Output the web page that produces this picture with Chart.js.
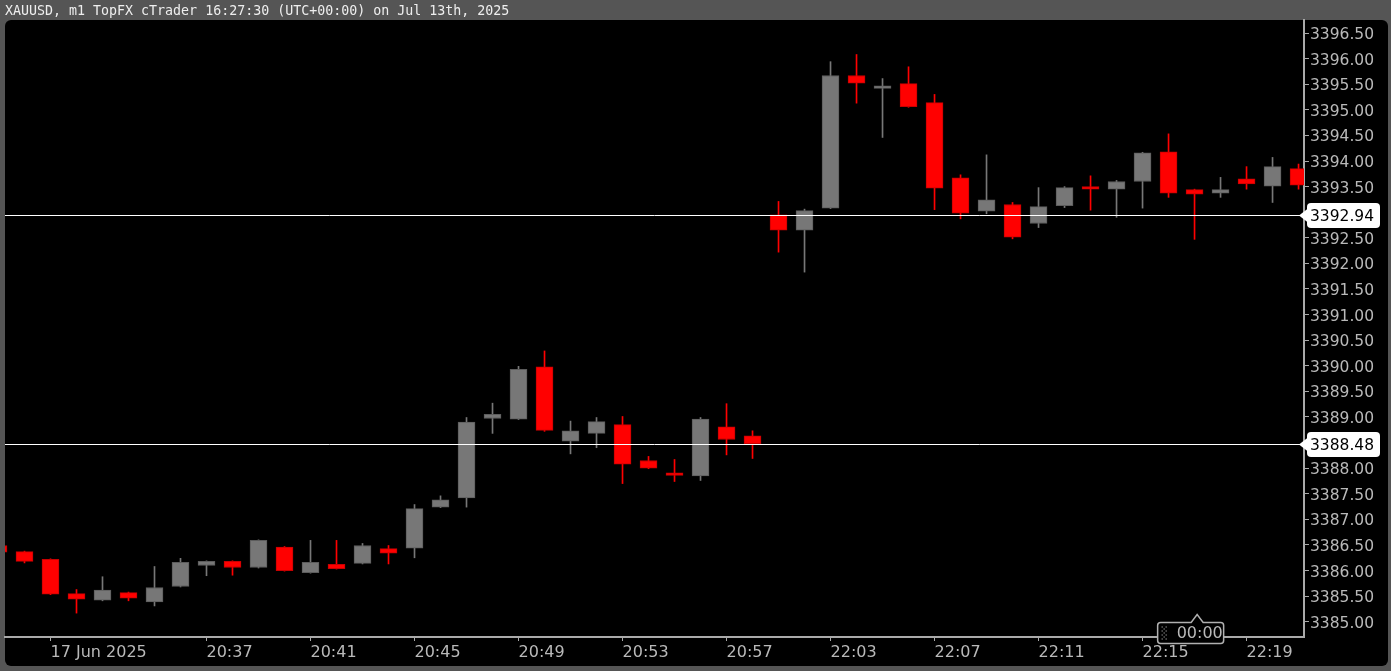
<!DOCTYPE html>
<html>
<head>
<meta charset="utf-8">
<script src="https://cdn.jsdelivr.net/npm/chart.js@4.4.1/dist/chart.umd.min.js"></script>
<style>
  html, body { margin: 0; padding: 0; background: #555555; overflow: hidden; }
  #wrap { position: relative; width: 1391px; height: 671px; }
  #chart { position: absolute; left: 0; top: 0; }
  #title {
    position: absolute; left: 5px; top: 1px; z-index: 2;
    font: 13.3px "DejaVu Sans Mono", monospace; line-height: 20px;
    color: #eeeeee; white-space: pre;
  }
</style>
</head>
<body>
<div id="wrap">
  <canvas id="chart" width="1391" height="671"></canvas>
  <div id="title">XAUUSD, m1 TopFX cTrader 16:27:30 (UTC+00:00) on Jul 13th, 2025</div>
</div>
<script>
// one candle per minute, index 0 is the half-hidden one on the left edge
const openPrices = [
  3386.49, 3386.37, 3386.22, 3385.55, 3385.42, 3385.57, 3385.39, 3385.69, 3386.10, 3386.18,
  3386.06, 3386.46, 3385.96, 3386.12, 3386.14, 3386.43, 3386.44, 3387.24, 3387.42, 3388.97,
  3388.96, 3389.98, 3388.53, 3388.68, 3388.85, 3388.15, 3387.91, 3387.85, 3388.81, 3388.63,
  3392.95, 3392.65, 3393.08, 3395.67, 3395.42, 3395.51, 3395.14, 3393.67, 3393.02, 3393.15,
  3392.78, 3393.13, 3393.50, 3393.45, 3393.60, 3394.18, 3393.44, 3393.37, 3393.65, 3393.51,
  3393.85,
];
const highPrices = [
  3386.52, 3386.38, 3386.23, 3385.63, 3385.88, 3385.58, 3386.08, 3386.24, 3386.19, 3386.19,
  3386.60, 3386.47, 3386.59, 3386.59, 3386.53, 3386.49, 3387.29, 3387.46, 3388.99, 3389.27,
  3389.99, 3390.29, 3388.92, 3388.99, 3389.01, 3388.23, 3388.17, 3388.99, 3389.26, 3388.73,
  3393.21, 3393.06, 3395.94, 3396.08, 3395.61, 3395.84, 3395.30, 3393.73, 3394.12, 3393.19,
  3393.48, 3393.50, 3393.71, 3393.62, 3394.17, 3394.53, 3393.45, 3393.68, 3393.89, 3394.07,
  3393.94,
];
const lowPrices = [
  3386.33, 3386.15, 3385.53, 3385.17, 3385.41, 3385.41, 3385.31, 3385.68, 3385.90, 3385.91,
  3386.05, 3385.99, 3385.95, 3386.03, 3386.13, 3386.13, 3386.25, 3387.23, 3387.24, 3388.68,
  3388.95, 3388.72, 3388.28, 3388.40, 3387.70, 3387.99, 3387.74, 3387.76, 3388.26, 3388.19,
  3392.22, 3391.83, 3393.07, 3395.13, 3394.46, 3395.05, 3393.05, 3392.87, 3392.97, 3392.48,
  3392.70, 3393.09, 3393.04, 3392.90, 3393.08, 3393.29, 3392.47, 3393.29, 3393.45, 3393.19,
  3393.45,
];
const closePrices = [
  3386.36, 3386.18, 3385.54, 3385.44, 3385.62, 3385.46, 3385.67, 3386.16, 3386.18, 3386.06,
  3386.59, 3386.00, 3386.16, 3386.04, 3386.49, 3386.34, 3387.21, 3387.38, 3388.90, 3389.05,
  3389.93, 3388.74, 3388.73, 3388.91, 3388.08, 3388.00, 3387.86, 3388.96, 3388.56, 3388.48,
  3392.65, 3393.03, 3395.67, 3395.52, 3395.47, 3395.06, 3393.47, 3392.98, 3393.24, 3392.51,
  3393.11, 3393.48, 3393.45, 3393.60, 3394.16, 3393.37, 3393.35, 3393.44, 3393.55, 3393.89,
  3393.53,
];

// time axis: which candle carries a label, and the label text
const tickIndex = [2, 8, 12, 16, 20, 24, 28, 32, 36, 40, 44, 48];
const tickLabels = ['17 Jun 2025', '20:37', '20:41', '20:45', '20:49', '20:53', '20:57', '22:03', '22:07', '22:11', '22:15', '22:19'];

// price axis ticks
const priceTicks = [
  3385.0, 3385.5, 3386.0, 3386.5, 3387.0, 3387.5, 3388.0, 3388.5, 3389.0, 3389.5, 3390.0, 3390.5,
  3391.0, 3391.5, 3392.0, 3392.5, 3393.0, 3393.5, 3394.0, 3394.5, 3395.0, 3395.5, 3396.0, 3396.5,
];

// horizontal price lines with their tags on the price scale
const priceLines = [3392.94, 3388.48];
const countdownText = '00:00';
const countdownIndex = 46.1;

const UP = '#777777';
const UP_EDGE = '#5c5c5c';
const DOWN = '#ff0000';
const DOWN_EDGE = '#c80000';
const AXIS = '#a9a9a9';
const LABEL = '#b9b9b9';
const FONT = '"DejaVu Sans", Verdana, sans-serif';

const isUp = (i) => closePrices[i] >= openPrices[i];

const bodyData = openPrices.map((o, i) => ({ x: i, y: [Math.min(o, closePrices[i]), Math.max(o, closePrices[i])] }));
const wickData = openPrices.map((o, i) => ({ x: i, y: [lowPrices[i], highPrices[i]] }));

function roundRect(ctx, x, y, w, h, r) {
  ctx.beginPath();
  ctx.moveTo(x + r, y);
  ctx.lineTo(x + w - r, y);
  ctx.arcTo(x + w, y, x + w, y + r, r);
  ctx.lineTo(x + w, y + h - r);
  ctx.arcTo(x + w, y + h, x + w - r, y + h, r);
  ctx.lineTo(x + r, y + h);
  ctx.arcTo(x, y + h, x, y + h - r, r);
  ctx.lineTo(x, y + r);
  ctx.arcTo(x, y, x + r, y, r);
  ctx.closePath();
}

const panelPlugin = {
  id: 'panel',
  beforeDraw(chart) {
    const ctx = chart.ctx;
    ctx.save();
    ctx.fillStyle = '#555555';
    ctx.fillRect(0, 0, chart.width, chart.height);
    ctx.fillStyle = '#000000';
    roundRect(ctx, 5, 20, chart.width - 8, chart.height - 25, 6);
    ctx.fill();
    ctx.restore();
  },
};

const priceLinePlugin = {
  id: 'priceLines',
  afterDatasetsDraw(chart) {
    const { ctx, chartArea } = chart;
    const yScale = chart.scales.y;
    ctx.save();
    ctx.strokeStyle = '#ffffff';
    ctx.lineWidth = 1;
    priceLines.forEach((price) => {
      const y = Math.round(yScale.getPixelForValue(price)) + 0.5;
      ctx.beginPath();
      ctx.moveTo(chartArea.left, y);
      ctx.lineTo(chartArea.right, y);
      ctx.stroke();
    });
    ctx.restore();
  },
  afterDraw(chart) {
    const { ctx, chartArea } = chart;
    const yScale = chart.scales.y;
    ctx.save();
    ctx.font = '15.5px ' + FONT;
    ctx.textBaseline = 'middle';
    ctx.textAlign = 'left';
    priceLines.forEach((price) => {
      const y = Math.round(yScale.getPixelForValue(price)) + 0.5;
      const left = chartArea.right + 3;
      ctx.fillStyle = '#ffffff';
      roundRect(ctx, left, y - 12.5, 73, 25, 4);
      ctx.fill();
      ctx.beginPath();
      ctx.moveTo(chartArea.right - 5, y);
      ctx.lineTo(left + 1, y - 7);
      ctx.lineTo(left + 1, y + 7);
      ctx.closePath();
      ctx.fill();
      ctx.fillStyle = '#000000';
      ctx.fillText(price.toFixed(2), left + 3, y + 1);
    });
    ctx.restore();
  },
};

const countdownPlugin = {
  id: 'countdown',
  afterDraw(chart) {
    const { ctx, chartArea } = chart;
    const x0 = chart.scales.x.getPixelForValue(countdownIndex);
    const top = chartArea.bottom - 14.5;
    const left = x0 - 39.5;
    const w = 66;
    const h = 21;
    ctx.save();
    ctx.fillStyle = '#000000';
    ctx.strokeStyle = '#b0b0b0';
    ctx.lineWidth = 1.5;
    ctx.beginPath();
    ctx.moveTo(left + 3, top);
    ctx.lineTo(x0 - 6, top);
    ctx.lineTo(x0, top - 8);
    ctx.lineTo(x0 + 6, top);
    ctx.lineTo(left + w - 3, top);
    ctx.arcTo(left + w, top, left + w, top + 3, 3);
    ctx.lineTo(left + w, top + h - 3);
    ctx.arcTo(left + w, top + h, left + w - 3, top + h, 3);
    ctx.lineTo(left + 3, top + h);
    ctx.arcTo(left, top + h, left, top + h - 3, 3);
    ctx.lineTo(left, top + 3);
    ctx.arcTo(left, top, left + 3, top, 3);
    ctx.closePath();
    ctx.fill();
    ctx.stroke();
    // little dotted bar before the timer
    ctx.fillStyle = '#d0d0d0';
    for (let row = 0; row < 7; row++) {
      for (let col = 0; col < 3; col++) {
        if ((row + col) % 2 === 0) {
          ctx.fillRect(left + 4 + col * 2, top + 4 + row * 2, 1, 1);
        }
      }
    }
    ctx.fillStyle = LABEL;
    ctx.font = '16px ' + FONT;
    ctx.textBaseline = 'middle';
    ctx.textAlign = 'left';
    ctx.fillText(countdownText, left + 19, top + h / 2 + 1);
    ctx.restore();
  },
};

new Chart(document.getElementById('chart').getContext('2d'), {
  type: 'bar',
  data: {
    datasets: [
      {
        label: 'body',
        data: bodyData,
        backgroundColor: bodyData.map((d, i) => (isUp(i) ? UP : DOWN)),
        borderColor: bodyData.map((d, i) => (isUp(i) ? UP_EDGE : DOWN_EDGE)),
        borderWidth: 1,
        borderSkipped: false,
        barThickness: 17,
        grouped: false,
      },
      {
        label: 'wick',
        data: wickData,
        backgroundColor: wickData.map((d, i) => (isUp(i) ? UP : DOWN)),
        borderWidth: 0,
        barThickness: 1,
        grouped: false,
      },
    ],
  },
  options: {
    responsive: false,
    animation: false,
    devicePixelRatio: 1,
    layout: { padding: { left: 5, top: 20, right: 0, bottom: 0 } },
    plugins: { legend: { display: false }, tooltip: { enabled: false } },
    scales: {
      x: {
        type: 'linear',
        position: 'bottom',
        min: 0.25,
        max: 50.21,
        bounds: 'data',
        offset: false,
        afterBuildTicks: (scale) => {
          scale.ticks = tickIndex.map((v) => ({ value: v }));
        },
        afterFit: (scale) => {
          scale.height = 34;
        },
        ticks: {
          autoSkip: false,
          maxRotation: 0,
          align: 'start',
          padding: 2,
          color: LABEL,
          font: { family: FONT, size: 16 },
          callback: (value, index) => tickLabels[index],
        },
        grid: { display: true, drawOnChartArea: false, drawTicks: true, tickLength: 4, tickColor: AXIS, offset: false },
        border: { display: true, color: AXIS, width: 2 },
      },
      y: {
        type: 'linear',
        position: 'right',
        min: 3384.703,
        max: 3396.754,
        bounds: 'data',
        beginAtZero: false,
        afterBuildTicks: (scale) => {
          scale.ticks = priceTicks.map((v) => ({ value: v }));
        },
        afterFit: (scale) => {
          scale.width = 87;
        },
        ticks: {
          autoSkip: false,
          padding: 1,
          labelOffset: 2,
          color: LABEL,
          font: { family: FONT, size: 15.5 },
          callback: (value) => Number(value).toFixed(2),
        },
        grid: { display: true, drawOnChartArea: false, drawTicks: true, tickLength: 5, tickColor: AXIS },
        border: { display: true, color: AXIS, width: 2 },
      },
    },
  },
  plugins: [panelPlugin, priceLinePlugin, countdownPlugin],
});
</script>
</body>
</html>
